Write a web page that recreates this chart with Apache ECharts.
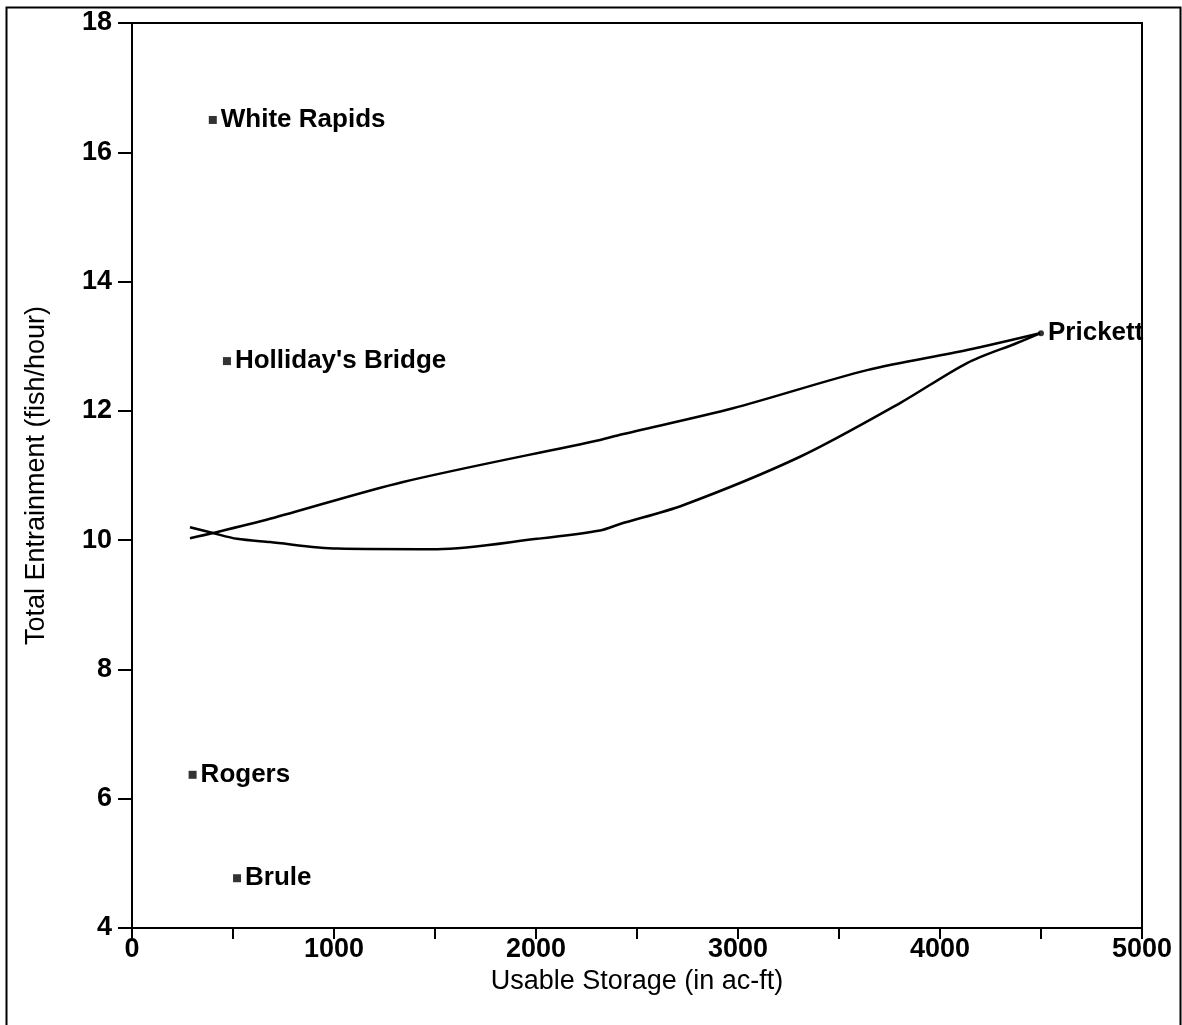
<!DOCTYPE html>
<html>
<head>
<meta charset="utf-8">
<script src="https://cdn.jsdelivr.net/npm/echarts@6/dist/echarts.min.js"></script>
<style>
html,body{margin:0;padding:0;background:#fff;}
#chart{width:1182px;height:1025px;}
</style>
</head>
<body>
<div id="chart"></div>
<script>
// Named sites (usable storage ac-ft, total entrainment fish/hour)
const siteNames = ["White Rapids", "Holliday's Bridge", "Rogers", "Brule", "Prickett"];
const siteStorage = [400, 470, 300, 520, 4500];
const siteEntrain = [16.5, 12.77, 6.37, 4.77, 13.2];

// Upper curve
const upperStorage = [287, 401, 683, 1342, 2317, 2416, 2975, 3639, 4134, 4495];
const upperEntrain = [10.03, 10.11, 10.33, 10.9, 11.55, 11.63, 12.04, 12.63, 12.94, 13.2];

// Lower curve
const lowerStorage = [287, 401, 520, 683, 1015, 1510, 2005, 2317, 2416, 2728, 3307, 3802, 4134, 4381, 4495];
const lowerEntrain = [10.2, 10.11, 10.02, 9.97, 9.87, 9.86, 10.02, 10.15, 10.25, 10.54, 11.29, 12.12, 12.74, 13.05, 13.2];

const xTicks = [0, 1000, 2000, 3000, 4000, 5000];
const yTicks = [4, 6, 8, 10, 12, 14, 16, 18];

const FONT = '"Liberation Sans", Arial, Helvetica, sans-serif';

const chart = echarts.init(document.getElementById('chart'), null, {renderer: 'canvas'});

const pairs = (xs, ys) => xs.map((x, i) => [x, ys[i]]);

const option = {
  animation: false,
  backgroundColor: '#ffffff',
  grid: {left: 132, right: 40, top: 23, bottom: 97, show: true, borderColor: '#000', borderWidth: 2, backgroundColor: 'transparent'},
  graphic: [{
    type: 'rect', left: 4, top: 5, silent: true,
    shape: {x: 0, y: 0, width: 1174, height: 1100},
    style: {fill: 'none', stroke: '#000', lineWidth: 2}
  }],
  xAxis: {
    type: 'value', min: xTicks[0], max: xTicks[xTicks.length - 1], interval: 1000,
    name: 'Usable Storage (in ac-ft)', nameLocation: 'middle', nameGap: 28,
    nameTextStyle: {fontFamily: FONT, fontSize: 27, color: '#000'},
    axisLine: {show: true, lineStyle: {color: '#000', width: 2}},
    axisTick: {show: true, inside: false, length: 11, lineStyle: {color: '#000', width: 2}},
    minorTick: {show: true, splitNumber: 2, length: 11, lineStyle: {color: '#000', width: 2}},
    axisLabel: {fontFamily: FONT, fontSize: 27, fontWeight: 'bold', color: '#000', margin: 8,
      formatter: v => xTicks.includes(v) ? String(v) : ''},
    splitLine: {show: false}, minorSplitLine: {show: false}
  },
  yAxis: {
    type: 'value', min: yTicks[0], max: yTicks[yTicks.length - 1], interval: 2,
    name: 'Total Entrainment (fish/hour)', nameLocation: 'middle', nameGap: 82, nameRotate: 90,
    nameTextStyle: {fontFamily: FONT, fontSize: 27, color: '#000'},
    axisLine: {show: true, lineStyle: {color: '#000', width: 2}},
    axisTick: {show: true, inside: false, length: 14, lineStyle: {color: '#000', width: 2}},
    axisLabel: {fontFamily: FONT, fontSize: 27, fontWeight: 'bold', color: '#000', margin: 20,
      formatter: v => yTicks.includes(v) ? String(v) : ''},
    splitLine: {show: false}
  },
  series: [
    {
      type: 'line', name: 'upper', data: pairs(upperStorage, upperEntrain),
      smooth: 0.3, showSymbol: false, symbol: 'none',
      lineStyle: {color: '#000', width: 2.5}, z: 2
    },
    {
      type: 'line', name: 'lower', data: pairs(lowerStorage, lowerEntrain),
      smooth: 0.3, showSymbol: false, symbol: 'none',
      lineStyle: {color: '#000', width: 2.5}, z: 2
    },
    {
      type: 'scatter', name: 'sites',
      data: siteNames.map((n, i) => ({
        name: n, value: [siteStorage[i], siteEntrain[i]],
        symbol: n === 'Prickett' ? 'circle' : 'rect',
        symbolSize: n === 'Prickett' ? 6 : 8
      })),
      itemStyle: {color: '#000'},
      label: {show: true, position: 'right', distance: 4, formatter: p => p.name,
        fontFamily: FONT, fontSize: 26, fontWeight: 'bold', color: '#000', opacity: 1, textBorderWidth: 0},
      z: 3
    }
  ]
};
chart.setOption(option);
</script>
</body>
</html>
